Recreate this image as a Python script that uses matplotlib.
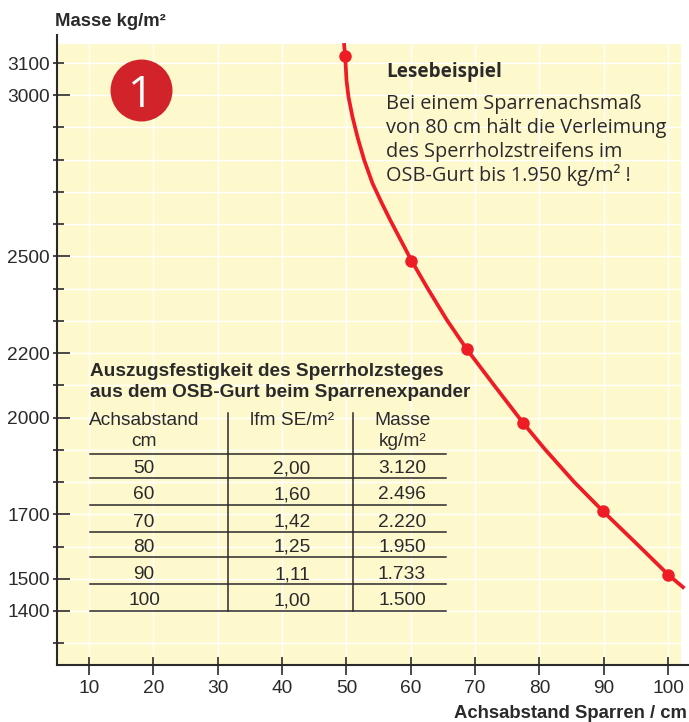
import matplotlib
matplotlib.use("Agg")
import matplotlib.pyplot as plt
from matplotlib.lines import Line2D

W, H = 689, 722

TEXT = "#2b2a2b"
RED = "#ee1c25"
YELLOW = "#fef9cd"

# curve
curve_x = [49.64, 49.8, 50.0, 50.31, 50.93, 51.77, 52.75, 54.04, 55.5, 56.79, 60.13, 62.7, 65.6, 68.71,
           72.96, 77.51, 80.84, 85.4, 89.8, 95.65, 100.05, 102.3]
curve_y = [3156, 3122, 3047, 2995, 2933, 2866, 2799, 2727, 2665, 2613, 2486, 2398, 2303, 2212,
           2100, 1982, 1902, 1800, 1711, 1598, 1512, 1474]
point_x = [49.8, 60.1, 68.7, 77.5, 89.8, 100.0]
point_y = [3122, 2486, 2212, 1982, 1711, 1512]

x_ticks = [10, 20, 30, 40, 50, 60, 70, 80, 90, 100]
y_ticks = list(range(1300, 3200, 100))
y_labels = [1400, 1500, 1700, 2000, 2200, 2500, 3000, 3100]

table_title = ["Auszugsfestigkeit des Sperrholzsteges", "aus dem OSB-Gurt beim Sparrenexpander"]
col_spacing = ["50", "60", "70", "80", "90", "100"]
col_lfm = ["2,00", "1,60", "1,42", "1,25", "1,11", "1,00"]
col_mass = ["3.120", "2.496", "2.220", "1.950", "1.733", "1.500"]

note_title = "Lesebeispiel"
note_lines = ["Bei einem Sparrenachsmaß", "von 80 cm hält die Verleimung",
              "des Sperrholzstreifens im", "OSB-Gurt bis 1.950 kg/m² !"]


def put(fig, px, py, s, **kw):
    """Place text by its baseline, in pixel positions of the reference."""
    kw.setdefault("color", TEXT)
    kw.setdefault("va", "baseline")
    kw.setdefault("family", "Liberation Sans")
    fig.text(px / W, 1 - py / H, s, **kw)


def rule(fig, x0, y0, x1, y1, lw=1.1):
    fig.add_artist(Line2D([x0 / W, x1 / W], [1 - y0 / H, 1 - y1 / H], color=TEXT, lw=lw,
                          transform=fig.transFigure))


def draw_axes(ax):
    ax.set_facecolor(YELLOW)
    ax.set_xlim(5, 102.0)
    ax.set_ylim(1234, 3159)
    ax.grid(True, color="white", lw=1.0)
    ax.set_axisbelow(True)
    for side in ["top", "right"]:
        ax.spines[side].set_visible(False)
    ax.spines["left"].set_linewidth(1.5)
    ax.spines["bottom"].set_linewidth(1.5)
    ax.spines["left"].set_color(TEXT)
    ax.spines["bottom"].set_color(TEXT)
    ax.spines["left"].set_bounds(1234, 3187)
    ax.spines["bottom"].set_bounds(5, 103.2)

    ax.set_xticks(x_ticks)
    ax.set_yticks(y_ticks)
    ax.set_yticklabels([str(v) if v in y_labels else "" for v in y_ticks])
    ax.tick_params(axis="x", direction="out", length=7.2, width=1.2, color=TEXT, pad=4,
                   labelsize=13.8, labelcolor=TEXT)
    ax.tick_params(axis="y", direction="out", length=3, width=1.2, color=TEXT, pad=2,
                   labelsize=13.8, labelcolor=TEXT)
    for lab in ax.get_xticklabels() + ax.get_yticklabels():
        lab.set_family("Liberation Sans")

    # inner part of the ticks
    ax.vlines(x_ticks, 1234, 1256, color=TEXT, lw=1.2)
    long_y = [v for v in y_ticks if v in y_labels and v != 3100]
    short_y = [v for v in y_ticks if v not in long_y]
    ax.hlines(long_y, 5, 7, color=TEXT, lw=1.2)
    ax.hlines(short_y, 5, 6.1, color=TEXT, lw=1.2)

    ax.plot(curve_x, curve_y, color=RED, lw=2.7, clip_on=False, zorder=5)
    ax.plot(point_x, point_y, "o", color=RED, ms=8, clip_on=False, zorder=6)


def draw_table(fig):
    for py, s in zip([375.7, 396.7], table_title):
        put(fig, 90, py, s, fontsize=13.7, fontweight="bold")

    put(fig, 144, 425, "Achsabstand", fontsize=13.8, ha="center")
    put(fig, 144, 446, "cm", fontsize=13.8, ha="center")
    put(fig, 292, 425, "lfm SE/m²", fontsize=13.8, ha="center")
    put(fig, 403, 425, "Masse", fontsize=13.8, ha="center")
    put(fig, 403, 446, "kg/m²", fontsize=13.8, ha="center")

    line_y = [454, 478, 505, 532, 557, 584, 611]
    text_y = [473, 499, 526.7, 552, 579, 605]
    for py in line_y:
        rule(fig, 90, py, 446, py)
    for px in [228, 353]:
        rule(fig, px, 413, px, 611)
    for py, a, b, c in zip(text_y, col_spacing, col_lfm, col_mass):
        put(fig, 144, py, a, fontsize=13.8, ha="center")
        put(fig, 292, py, b, fontsize=13.8, ha="center")
        put(fig, 402, py, c, fontsize=13.8, ha="center")


def draw_note(fig):
    put(fig, 386, 76.7, note_title, fontsize=13.6, fontweight="bold", family="Open Sans")
    for py, s in zip([109, 132.7, 156.7, 181], note_lines):
        put(fig, 386, py, s, fontsize=14.3, family="Open Sans")


def main():
    fig = plt.figure(figsize=(W / 100, H / 100), dpi=100)
    ax = fig.add_axes([57 / W, 1 - 664.5 / H, (681 - 57) / W, (664.5 - 44) / H])
    draw_axes(ax)

    # red badge
    ax.scatter([18.0], [3015], s=1990, color="#d2232a", linewidths=0, zorder=4)
    put(fig, 141, 107, "1", color="white", fontsize=32, ha="center", family="Open Sans")

    put(fig, 55, 26, "Masse kg/m²", fontsize=13.3, fontweight="bold")
    put(fig, 687, 718, "Achsabstand Sparren / cm", fontsize=13.3, fontweight="bold", ha="right")

    draw_table(fig)
    draw_note(fig)

    fig.savefig("out.png", dpi=100)


if __name__ == "__main__":
    main()
